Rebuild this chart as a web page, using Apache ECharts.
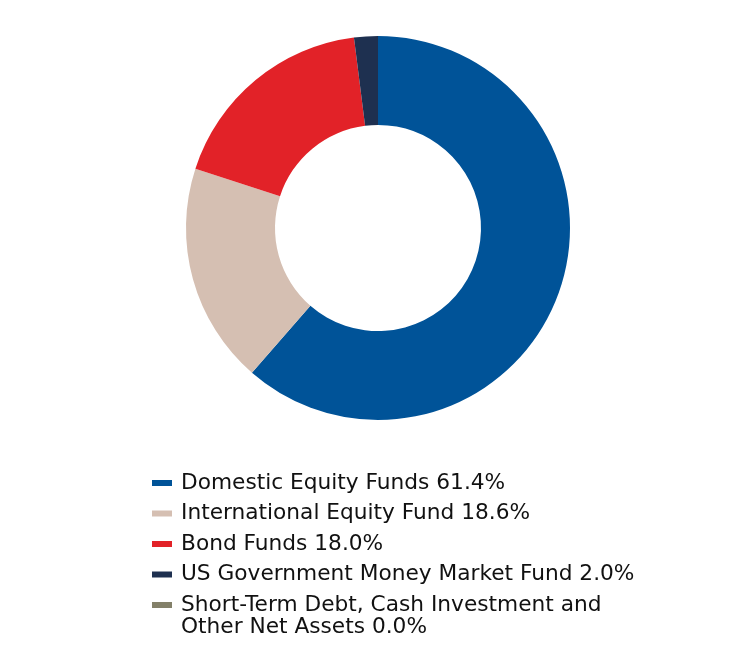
<!DOCTYPE html>
<html>
<head>
<meta charset="utf-8">
<script src="https://cdn.jsdelivr.net/npm/echarts@6/dist/echarts.min.js"></script>
<style>
html,body{margin:0;padding:0;background:#fff;}
#chart{width:756px;height:648px;}
</style>
</head>
<body>
<div id="chart"></div>
<script>
var categories = [
  'Domestic Equity Funds',
  'International Equity Fund',
  'Bond Funds',
  'US Government Money Market Fund',
  'Short-Term Debt, Cash Investment and\nOther Net Assets'
];
var values = [61.4, 18.6, 18.0, 2.0, 0.0];
var colors = ['#005398', '#d5bfb2', '#e22228', '#1e3050', '#838069'];

var chart = echarts.init(document.getElementById('chart'), null, {renderer: 'canvas'});

var pieData = categories.map(function (c, i) {
  return {name: c, value: values[i], itemStyle: {color: colors[i]}};
});

function labelText(i) {
  return categories[i] + ' ' + values[i].toFixed(1) + '%';
}

var textFont = {
  fontFamily: 'DejaVu Sans',
  fontSize: 21.7,
  lineHeight: 22,
  color: '#111111'
};

// continuation lines of wrapped legend labels
var extraLines = [];
categories.forEach(function (c, i) {
  var lines = labelText(i).split('\n');
  for (var k = 1; k < lines.length; k++) {
    extraLines.push({row: i, line: k, text: lines[k]});
  }
});

var legendLeft = 152, legendTop = 472, rowStep = 30.5;

var option = {
  animation: false,
  legend: {
    orient: 'vertical',
    left: legendLeft,
    top: legendTop,
    height: 200,
    padding: 0,
    itemGap: rowStep - 22,
    itemWidth: 20,
    itemHeight: 6,
    icon: 'rect',
    selectedMode: false,
    data: categories,
    formatter: function (name) {
      var i = categories.indexOf(name);
      return labelText(i).split('\n')[0];
    },
    textStyle: {
      fontFamily: textFont.fontFamily,
      fontSize: textFont.fontSize,
      lineHeight: textFont.lineHeight,
      color: textFont.color,
      padding: [0, 0, 0, 4]
    }
  },
  graphic: extraLines.map(function (e) {
    return {
      type: 'text',
      left: legendLeft + 29,
      top: legendTop + e.row * rowStep + e.line * 22,
      silent: true,
      style: {
        text: e.text,
        font: textFont.fontSize + 'px "' + textFont.fontFamily + '"',
        fill: textFont.color,
        lineHeight: 22
      }
    };
  }),
  series: [{
    type: 'pie',
    center: [378, 228],
    radius: [103, 192],
    startAngle: 90,
    clockwise: true,
    label: {show: false},
    labelLine: {show: false},
    emphasis: {disabled: true},
    itemStyle: {borderWidth: 0},
    data: pieData
  }]
};
chart.setOption(option);
</script>
</body>
</html>
